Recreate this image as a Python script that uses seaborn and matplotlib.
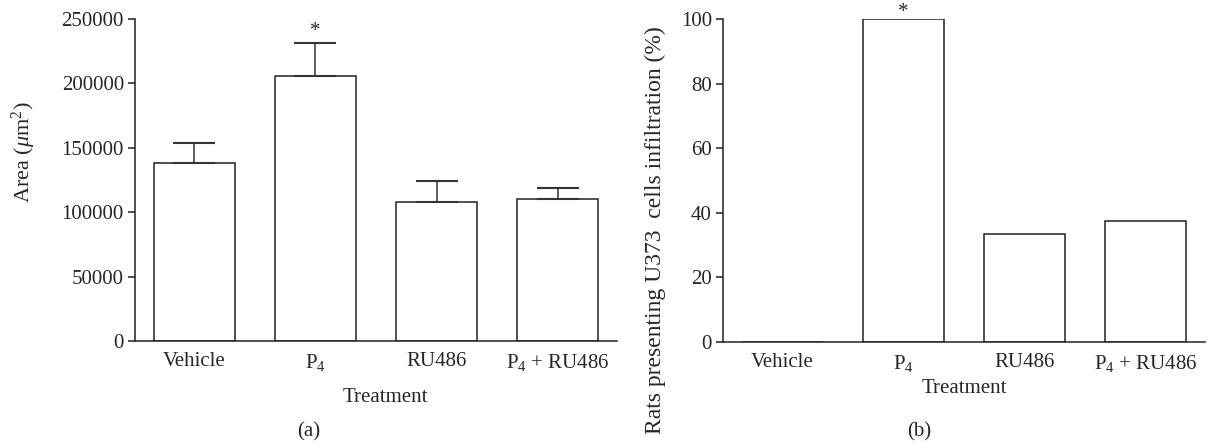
import matplotlib
matplotlib.use('Agg')
import matplotlib.pyplot as plt
import seaborn as sns
import numpy as np

# ── Data ───────────────────────────────────────────────────────────────────────
treatments   = ['Vehicle', 'P$_4$', 'RU486', 'P$_4$ + RU486']
area_mean    = [138400, 205700, 107900, 110200]
area_sem     = [15500, 25700, 16300, 8800]
rats_percent = [0, 100, 33.3, 37.5]

area_ticks = [0, 50000, 100000, 150000, 200000, 250000]
rats_ticks = [0, 20, 40, 60, 80, 100]

# ── Style ──────────────────────────────────────────────────────────────────────
sns.set_style('ticks')
plt.rcParams['font.family'] = ['Liberation Serif', 'DejaVu Serif']
plt.rcParams['mathtext.fontset'] = 'custom'
plt.rcParams['mathtext.rm'] = 'Liberation Serif'
plt.rcParams['mathtext.it'] = 'Liberation Serif:italic'
plt.rcParams['axes.linewidth'] = 1.1
plt.rcParams['axes.edgecolor'] = '#222222'

FS = 15
LW = 1.1

fig = plt.figure(figsize=(12.12, 4.44), dpi=100)
ax_a = fig.add_axes([0.1114, 0.232, 0.3977, 0.725])
ax_b = fig.add_axes([0.5965, 0.2297, 0.3977, 0.7275])


def style_axis(ax, ticks):
    sns.despine(ax=ax)
    ax.set_xlim(-0.49, 3.49)
    ax.set_ylim(0, ticks[-1])
    ax.set_yticks(ticks)
    ax.set_yticklabels([str(t) for t in ticks], fontsize=FS)
    ax.tick_params(axis='y', direction='out', length=5, width=LW,
                   pad=3, color='#222222')
    ax.tick_params(axis='x', length=0, pad=8, labelsize=FS)
    ax.set_xticks(range(len(treatments)))
    ax.set_xticklabels(treatments)


# ── Panel (a): lesion area ─────────────────────────────────────────────────────
sns.barplot(x=treatments, y=area_mean, color='white', edgecolor='#222222',
            linewidth=LW, width=0.667, saturation=1, ax=ax_a)
ax_a.errorbar(range(len(treatments)), area_mean,
              yerr=[np.zeros(len(area_sem)), area_sem],
              fmt='none', ecolor='#333333', elinewidth=LW,
              capsize=14.8, capthick=LW + 0.4)
style_axis(ax_a, area_ticks)
ax_a.text(1, 240500, '*', ha='center', va='center', fontsize=FS)
ax_a.set_ylabel('Area ($\\mathit{\\mu}$m$^2$)', fontsize=16)
ax_a.yaxis.set_label_coords(-0.201, 0.585)
ax_a.set_xlabel('Treatment', fontsize=FS)
ax_a.xaxis.set_label_coords(0.519, -0.147)

# ── Panel (b): rats with infiltration ──────────────────────────────────────────
sns.barplot(x=treatments, y=rats_percent, color='white', edgecolor='#222222',
            linewidth=LW, width=0.667, saturation=1, ax=ax_b)
style_axis(ax_b, rats_ticks)
ax_b.text(1, 102.0, '*', ha='center', va='center', fontsize=FS,
          clip_on=False)
ax_b.set_ylabel('Rats presenting U373  cells infiltration (%)', fontsize=17)
ax_b.yaxis.set_label_coords(-0.118, 0.347)
ax_b.set_xlabel('Treatment', fontsize=FS)
ax_b.xaxis.set_label_coords(0.5, -0.116)

fig.text(309 / 1212, 1 - 432 / 444, '(a)', ha='center', va='center', fontsize=FS)
fig.text(919 / 1212, 1 - 432 / 444, '(b)', ha='center', va='center', fontsize=FS)

plt.savefig('out.png', dpi=100)
plt.close()
